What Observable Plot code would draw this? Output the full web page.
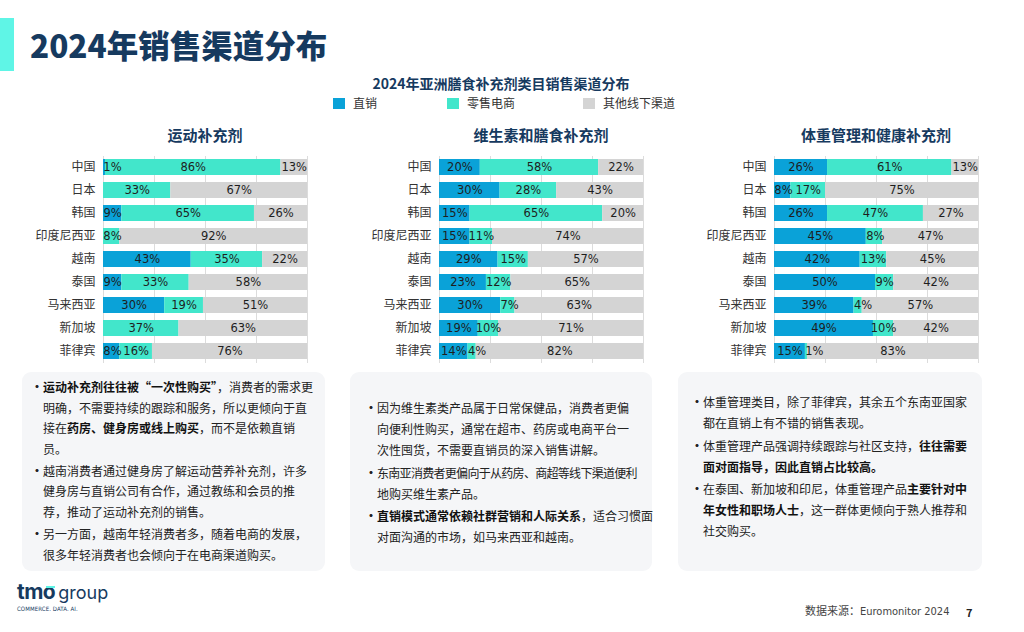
<!DOCTYPE html>
<html><head><meta charset="utf-8">
<script src="https://cdn.jsdelivr.net/npm/d3@7"></script>
<script src="https://cdn.jsdelivr.net/npm/@observablehq/plot@0.6"></script>
<style>
body{margin:0;background:#fff;font-family:"Noto Sans CJK SC","Noto Sans",sans-serif;}
#page{position:relative;width:1024px;height:632px;overflow:hidden;background:#fff;}
.abs{position:absolute;}
#accent{left:0;top:18px;width:14px;height:53px;background:#5ff5e6;}
#title{left:30px;top:22px;font-size:31.5px;font-weight:900;color:#163a5f;line-height:44px;white-space:nowrap;}
#subtitle{left:0;width:1002px;top:73px;text-align:center;font-size:14px;font-weight:700;color:#163a5f;line-height:20px;}
.leg{top:95px;font-size:12px;color:#333;line-height:16px;white-space:nowrap;}
.leg i{display:inline-block;width:12px;height:11px;vertical-align:-1px;margin-right:8px;}
.ptitle{top:124px;width:320px;text-align:center;font-size:15px;font-weight:700;color:#163a5f;line-height:22px;}
.box{top:372px;height:199px;background:#f5f6f8;border-radius:9px;}
.txt{font-size:12px;color:#222;line-height:21px;white-space:nowrap;}
.txt .p{position:relative;margin-bottom:1.5px;}
.txt .p::before{content:"•";position:absolute;left:-12px;top:0;font-size:12px;font-weight:700;}
.txt b{font-weight:700;color:#111;}
.plot{top:152px;}
#foot{left:805px;top:603px;font-size:11px;color:#444;line-height:18px;white-space:nowrap;font-family:"Liberation Sans Narrow","DejaVu Sans Condensed","Noto Sans CJK SC",sans-serif;}
#pnum{left:966px;top:603px;font-size:11px;font-weight:700;color:#222;line-height:18px;}
#logo{left:17px;top:580px;color:#163a5f;white-space:nowrap;}
</style></head>
<body><div id="page">
<div id="accent" class="abs"></div>
<div id="title" class="abs">2024年销售渠道分布</div>
<div id="subtitle" class="abs">2024年亚洲膳食补充剂类目销售渠道分布</div>
<div class="abs leg" style="left:333px"><i style="background:#0aa2d8"></i>直销</div>
<div class="abs leg" style="left:447px"><i style="background:#42e6cb"></i>零售电商</div>
<div class="abs leg" style="left:583px"><i style="background:#d4d4d4"></i>其他线下渠道</div>
<div class="abs ptitle" style="left:45px">运动补充剂</div>
<div class="abs ptitle" style="left:381px">维生素和膳食补充剂</div>
<div class="abs ptitle" style="left:716px">体重管理和健康补充剂</div>
<div id="p1" class="abs plot" style="left:0px"></div>
<div id="p2" class="abs plot" style="left:336px"></div>
<div id="p3" class="abs plot" style="left:671px"></div>

<div class="abs box" style="left:22px;width:303px"></div>
<div class="abs box" style="left:350px;width:302px"></div>
<div class="abs box" style="left:678px;width:304px"></div>

<div class="abs txt" style="left:43px;top:377px;line-height:20.6px">
<div class="p"><b>运动补充剂往往被“一次性购买”</b>，消费者的需求更<br>明确，不需要持续的跟踪和服务，所以更倾向于直<br>接在<b>药房、健身房或线上购买</b>，而不是依赖直销<br>员。</div>
<div class="p">越南消费者通过健身房了解运动营养补充剂，许多<br>健身房与直销公司有合作，通过教练和会员的推<br>荐，推动了运动补充剂的销售。</div>
<div class="p">另一方面，越南年轻消费者多，随着电商的发展，<br>很多年轻消费者也会倾向于在电商渠道购买。</div>
</div>
<div class="abs txt" style="left:377px;top:397px">
<div class="p">因为维生素类产品属于日常保健品，消费者更偏<br>向便利性购买，通常在超市、药房或电商平台一<br>次性囤货，不需要直销员的深入销售讲解。</div>
<div class="p"><span style="letter-spacing:-0.7px">东南亚消费者更偏向于从药房、商超等线下渠道便利</span><br>地购买维生素产品。</div>
<div class="p"><b>直销模式通常依赖社群营销和人际关系</b>，适合习惯面<br>对面沟通的市场，如马来西亚和越南。</div>
</div>
<div class="abs txt" style="left:703px;top:391px">
<div class="p">体重管理类目，除了菲律宾，其余五个东南亚国家<br>都在直销上有不错的销售表现。</div>
<div class="p">体重管理产品强调持续跟踪与社区支持，<b>往往需要<br>面对面指导，因此直销占比较高。</b></div>
<div class="p">在泰国、新加坡和印尼，体重管理产品<b>主要针对中<br>年女性和职场人士</b>，这一群体更倾向于熟人推荐和<br>社交购买。</div>
</div>

<div id="logo" class="abs">
<div style="position:relative;font-family:Inter,'DejaVu Sans',sans-serif;line-height:24px;">
<span style="font-size:21px;font-weight:700;letter-spacing:-0.5px">tmo</span><span style="font-size:18px;font-weight:400;margin-left:3px">group</span>
<span style="position:absolute;left:29px;top:6px;width:9px;height:2px;background:#5ff5e6"></span>
</div>
<div style="font-size:6px;color:#163a5f;letter-spacing:0.1px;line-height:8px;font-family:'Liberation Sans Narrow','DejaVu Sans Condensed',sans-serif;">COMMERCE. DATA. AI.</div>
</div>
<div id="foot" class="abs">数据来源：Euromonitor 2024</div>
<div id="pnum" class="abs">7</div>
</div>

<script>
const countries = ["中国","日本","韩国","印度尼西亚","越南","泰国","马来西亚","新加坡","菲律宾"];
const channels = ["直销","零售电商","其他线下渠道"];
const channelColors = ["#0aa2d8","#42e6cb","#d4d4d4"];

// 运动补充剂
const sportDirect = [1, 0, 9, 0, 43, 9, 30, 0, 8];
const sportEcom   = [86, 33, 65, 8, 35, 33, 19, 37, 16];
const sportOther  = [13, 67, 26, 92, 22, 58, 51, 63, 76];
// 维生素和膳食补充剂
const vitDirect = [20, 30, 15, 15, 29, 23, 30, 19, 14];
const vitEcom   = [58, 28, 65, 11, 15, 12, 7, 10, 4];
const vitOther  = [22, 43, 20, 74, 57, 65, 63, 71, 82];
// 体重管理和健康补充剂
const wtDirect = [26, 8, 26, 45, 42, 50, 39, 49, 15];
const wtEcom   = [61, 17, 47, 8, 13, 9, 4, 10, 1];
const wtOther  = [13, 75, 27, 47, 45, 42, 57, 42, 83];

function buildRows(direct, ecom, other) {
  const rows = [];
  countries.forEach((c, i) => {
    const vals = [direct[i], ecom[i], other[i]];
    const total = d3.sum(vals);
    let acc = 0;
    vals.forEach((v, j) => {
      const x1 = acc / total, x2 = (acc + v) / total;
      acc += v;
      rows.push({country: c, channel: channels[j], v, x1, x2,
        lx: Math.max((x1 + x2) / 2, x1 + 0.044)});
    });
  });
  return rows;
}

function panel(direct, ecom, other) {
  const rows = buildRows(direct, ecom, other);
  return Plot.plot({
    width: 320, height: 216,
    marginLeft: 103, marginRight: 13, marginTop: 4, marginBottom: 5,
    x: {domain: [0, 1], axis: null},
    y: {domain: countries, paddingInner: 0.3, paddingOuter: 0.15, axis: null},
    color: {domain: channels, range: channelColors},
    style: {background: "transparent", overflow: "visible"},
    marks: [
      Plot.ruleX([0, 0.25, 0.5, 0.75, 1], {stroke: "#dcdcdc", strokeWidth: 1}),
      Plot.barX(rows.filter(d => d.v > 0), {x1: "x1", x2: "x2", y: "country", fill: "channel"}),
      Plot.text(rows.filter(d => d.v > 0), {x: "lx", y: "country", text: d => d.v + "%",
        fill: "#1e1e1e", fontSize: 11.5, fontFamily: "DejaVu Sans, sans-serif"}),
      Plot.axisY({tickSize: 0, tickPadding: 8, fontSize: 12, fill: "#333",
        fontFamily: "Noto Sans CJK SC, sans-serif", label: null})
    ]
  });
}

document.getElementById("p1").append(panel(sportDirect, sportEcom, sportOther));
document.getElementById("p2").append(panel(vitDirect, vitEcom, vitOther));
document.getElementById("p3").append(panel(wtDirect, wtEcom, wtOther));
</script>
</body></html>
